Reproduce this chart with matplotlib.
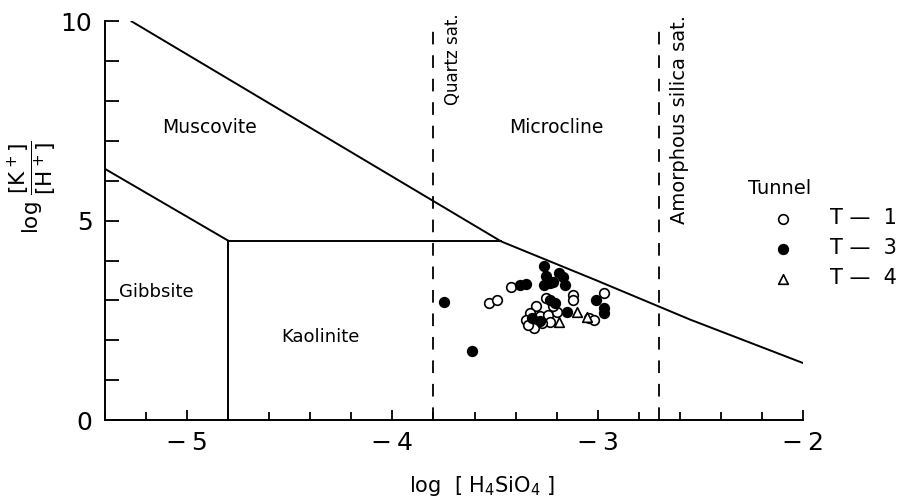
import numpy as np
import matplotlib.pyplot as plt
from matplotlib.ticker import MultipleLocator, FixedLocator

plt.rcParams['font.family'] = ['DejaVu Sans']
plt.rcParams['mathtext.fontset'] = 'dejavusans'

# stability field boundaries  (log H4SiO4, log K+/H+)
upper_x = [-5.27, -3.47, -3.0, -2.55, -2.0]
upper_y = [10.0, 4.48, 3.49, 2.52, 1.43]
musc_gibb_x = [-5.4, -4.8]
musc_gibb_y = [6.3, 4.5]
kaol_top_x = [-4.8, -3.47]
kaol_top_y = [4.5, 4.5]
gibb_kaol_x = [-4.8, -4.8]
gibb_kaol_y = [0.0, 4.5]
quartz_sat = -3.8
amorph_sat = -2.7

# water samples
t1_x = [-3.53, -3.49, -3.42, -3.25, -3.30, -3.12, -3.12, -2.97, -3.04, -3.02,
        -3.33, -3.35, -3.31, -3.28, -3.24, -3.20, -3.23, -3.31, -3.34, -3.27,
        -3.22]
t1_y = [2.93, 3.00, 3.34, 3.06, 2.85, 3.14, 3.02, 3.19, 2.56, 2.50,
        2.68, 2.50, 2.47, 2.60, 2.64, 2.72, 2.47, 2.31, 2.39, 2.43,
        2.85]
t3_x = [-3.75, -3.61, -3.26, -3.25, -3.22, -3.17, -3.16, -3.26, -3.19, -3.23,
        -3.38, -3.35, -3.23, -3.21, -3.15, -3.01, -2.97, -2.97, -3.32, -3.28]
t3_y = [2.96, 1.72, 3.87, 3.62, 3.47, 3.60, 3.39, 3.39, 3.70, 3.44,
        3.39, 3.41, 3.02, 2.93, 2.72, 3.00, 2.81, 2.68, 2.55, 2.49]
t4_x = [-3.10, -3.19, -3.05]
t4_y = [2.70, 2.45, 2.58]

fig = plt.figure(figsize=(8.98, 4.98), dpi=100)
ax = fig.add_axes([0.1169, 0.1566, 0.7773, 0.8004])

lw = 1.4
ax.plot(upper_x, upper_y, color='black', lw=lw)
ax.plot(musc_gibb_x, musc_gibb_y, color='black', lw=lw)
ax.plot(kaol_top_x, kaol_top_y, color='black', lw=lw)
ax.plot(gibb_kaol_x, gibb_kaol_y, color='black', lw=lw)
ax.plot([quartz_sat, quartz_sat], [0, 10], color='black', lw=1.3, dashes=(7, 6))
ax.plot([amorph_sat, amorph_sat], [0, 10], color='black', lw=1.3, dashes=(7, 6))

ax.scatter(t1_x, t1_y, s=48, facecolor='white', edgecolor='black', lw=1.2,
           zorder=3, label='T \u2014  1')
ax.scatter(t3_x, t3_y, s=48, facecolor='black', edgecolor='black', lw=1.2,
           zorder=4, label='T \u2014  3')
ax.scatter(t4_x, t4_y, s=48, marker='^', facecolor='white', edgecolor='black',
           lw=1.2, zorder=5, label='T \u2014  4')

# field names
ax.text(-4.89, 7.33, 'Muscovite', fontsize=13.5, ha='center', va='center')
ax.text(-3.20, 7.33, 'Microcline', fontsize=13.5, ha='center', va='center')
ax.text(-5.15, 3.22, 'Gibbsite', fontsize=13, ha='center', va='center')
ax.text(-4.35, 2.09, 'Kaolinite', fontsize=13, ha='center', va='center')
ax.text(-3.705, 9.05, 'Quartz sat.', fontsize=12, rotation=90,
        ha='center', va='center')
ax.text(-2.60, 7.53, 'Amorphous silica sat.', fontsize=14, rotation=90,
        ha='center', va='center')

ax.set_xlim(-5.4, -2)
ax.set_ylim(0, 10)
ax.spines['top'].set_visible(False)
ax.spines['right'].set_visible(False)
for s in ('left', 'bottom'):
    ax.spines[s].set_linewidth(1.4)

ax.xaxis.set_major_locator(FixedLocator([-5, -4, -3, -2]))
ax.xaxis.set_minor_locator(MultipleLocator(0.2))
ax.set_xticklabels(['\u2212\u20095', '\u2212\u20094', '\u2212\u20093', '\u2212\u20092'])
ax.yaxis.set_major_locator(FixedLocator([0, 5, 10]))
ax.yaxis.set_minor_locator(MultipleLocator(1))
ax.tick_params(axis='both', which='both', direction='in', width=1.3,
               labelsize=18, colors='black')
ax.tick_params(axis='x', which='major', length=7, pad=8)
ax.tick_params(axis='x', which='minor', length=6)
ax.tick_params(axis='y', which='major', length=10, pad=9)
ax.tick_params(axis='y', which='minor', length=10)

ax.set_xlabel('log  [ H$_4$SiO$_4$ ]', fontsize=15)
ax.xaxis.set_label_coords(0.54, -0.135)
ax.set_ylabel(r'log $\dfrac{[\mathrm{K^+}]}{[\mathrm{H^+}]}$', fontsize=15.5)
ax.yaxis.set_label_coords(-0.066, 0.585)

leg = ax.legend(loc='upper left', bbox_to_anchor=(0.833, 0.640),
                bbox_transform=fig.transFigure, frameon=False,
                title='Tunnel', fontsize=15, title_fontsize=14,
                handlelength=3.4, handletextpad=0.55, labelspacing=0.48,
                borderaxespad=0, borderpad=0)
leg._legend_box.align = 'left'

fig.savefig('out.png', dpi=100)
